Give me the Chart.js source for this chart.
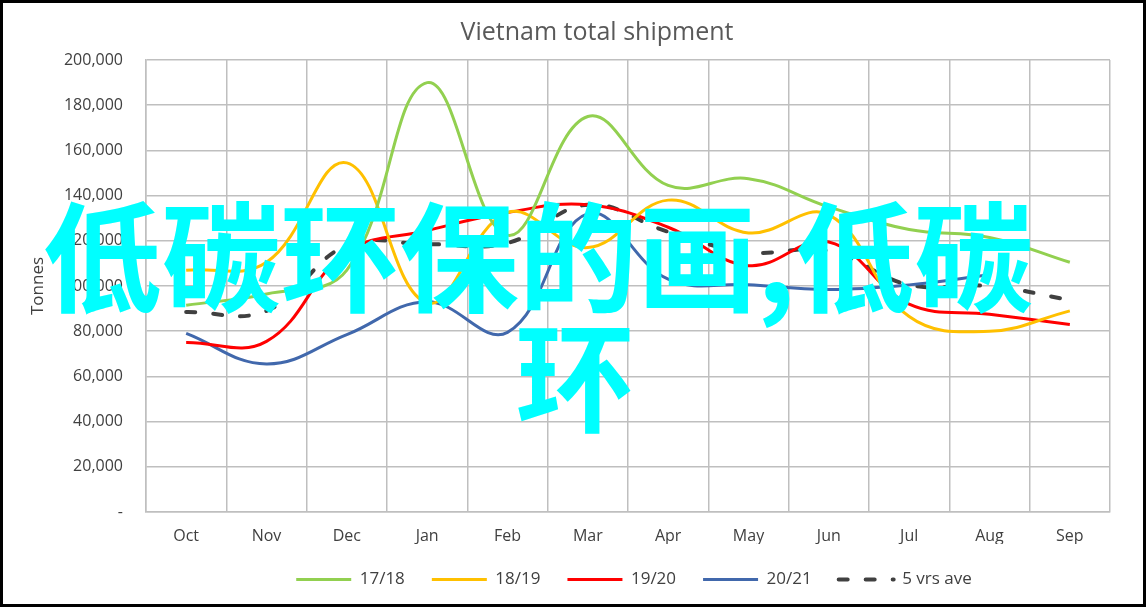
<!DOCTYPE html>
<html>
<head>
<meta charset="utf-8">
<script src="https://cdn.jsdelivr.net/npm/chart.js@4"></script>
<style>
html,body{margin:0;padding:0;background:#fff;}
canvas{display:block;}
</style>
</head>
<body>
<canvas id="c" width="1146" height="607"></canvas>
<script>
const months = ['Oct','Nov','Dec','Jan','Feb','Mar','Apr','May','Jun','Jul','Aug','Sep'];
const s1718 = [91500, 96500, 107000, 190000, 122500, 175000, 144500, 147500, 135000, 125000, 121500, 110500];
const s1819 = [107000, 110500, 154500, 92500, 132500, 117000, 138000, 123500, 131500, 86500, 80000, 89000];
const s1920 = [75000, 75500, 115000, 124500, 132500, 136000, 126000, 109000, 119500, 92000, 87500, 83000];
const s2021 = [79000, 65500, 78500, 93000, 79500, 132000, 103000, 100500, 98500, 100500, 105000, null];
const s5yrs = [88500, 89000, 118000, 118500, 119000, 136000, 124000, 115000, 115500, 100500, 100000, 93800];
const seriesNames = ['17/18', '18/19', '19/20', '20/21', '5 yrs ave'];
const chartTitle = 'Vietnam total shipment';
const yTitle = 'Tonnes';
const watermarkLines = ['低碳环保的画,低碳', '环'];

const FONT = '"Open Sans", "Liberation Sans", sans-serif';

const framePlugin = {
  id: 'frame',
  afterLayout(chart) {
    const t = chart.titleBlock;
    if (t) {
      const shift = 597 - (t.left + t.right) / 2;
      t.left += shift; t.right += shift;
    }
    const l = chart.legend;
    if (l) { l.left += 6; l.right += 6; }
  },
  afterDraw(chart) {
    const ctx = chart.ctx;
    ctx.save();
    ctx.font = 'bold 119px "Noto Sans CJK SC"';
    ctx.fillStyle = '#00FFFF';
    ctx.textAlign = 'center';
    ctx.textBaseline = 'middle';
    ctx.fillText(watermarkLines[0], 538, 258);
    ctx.fillText(watermarkLines[1], 575, 378);
    ctx.restore();
    ctx.save();
    ctx.strokeStyle = '#000';
    ctx.lineWidth = 3;
    ctx.strokeRect(1.5, 1.5, chart.width - 3, chart.height - 3);
    ctx.restore();
  }
};

const mk = (label, data, color, extra) => Object.assign({
  label, data,
  borderColor: color,
  backgroundColor: color,
  borderWidth: 3,
  pointRadius: 0,
  pointHoverRadius: 0,
  tension: 0.4,
  fill: false
}, extra || {});

new Chart(document.getElementById('c'), {
  type: 'line',
  data: {
    labels: months,
    datasets: [
      mk(seriesNames[0], s1718, '#92D050'),
      mk(seriesNames[1], s1819, '#FFC000'),
      mk(seriesNames[2], s1920, '#FF0000'),
      mk(seriesNames[3], s2021, '#4168AC'),
      mk(seriesNames[4], s5yrs, '#404040', { borderWidth: 4, borderDash: [9, 18], borderCapStyle: 'round' })
    ]
  },
  options: {
    responsive: false,
    animation: false,
    events: [],
    layout: { padding: { top: 10, left: 10, right: 36, bottom: 23 } },
    plugins: {
      tooltip: { enabled: false },
      title: {
        display: true,
        text: chartTitle,
        color: '#595959',
        font: { family: FONT, size: 25, weight: 'normal', lineHeight: 1.2 },
        padding: { top: 8, bottom: 12 }
      },
      legend: {
        position: 'bottom',
        fullSize: false,
        maxHeight: 40,
        labels: {
          usePointStyle: true,
          pointStyle: 'line',
          pointStyleWidth: 55,
          padding: 27,
          color: '#404040',
          font: { family: FONT, size: 17 },
          generateLabels: (chart) => chart.data.datasets.map((ds, i) => ({
            text: ds.label,
            datasetIndex: i,
            hidden: false,
            fillStyle: ds.borderColor,
            strokeStyle: ds.borderColor,
            fontColor: '#404040',
            lineWidth: ds.borderWidth,
            lineDash: ds.borderDash || [],
            lineCap: ds.borderCapStyle || 'butt',
            pointStyle: 'line'
          }))
        }
      }
    },
    scales: {
      x: {
        offset: true,
        afterFit: (scale) => { scale.height = 32; },
        grid: { color: '#BFBFBF', lineWidth: 1.5, drawTicks: false, offset: true },
        border: { color: '#BFBFBF', width: 1.5 },
        ticks: { color: '#404040', padding: 16, font: { family: FONT, size: 16, lineHeight: 1 } }
      },
      y: {
        min: 0, max: 200000,
        grid: { color: '#BFBFBF', lineWidth: 1.5, drawTicks: false },
        border: { color: '#BFBFBF', width: 1.5 },
        afterFit: (scale) => { scale.width = 136; },
        ticks: {
          stepSize: 20000,
          padding: 23,
          color: '#404040',
          font: { family: FONT, size: 16 },
          callback: (v) => v === 0 ? '-' : v.toLocaleString('en-US')
        },
        title: {
          display: true,
          text: yTitle,
          color: '#404040',
          font: { family: FONT, size: 17 },
          padding: { top: 17.8, bottom: 0 }
        }
      }
    }
  },
  plugins: [framePlugin]
});
</script>
</body>
</html>
